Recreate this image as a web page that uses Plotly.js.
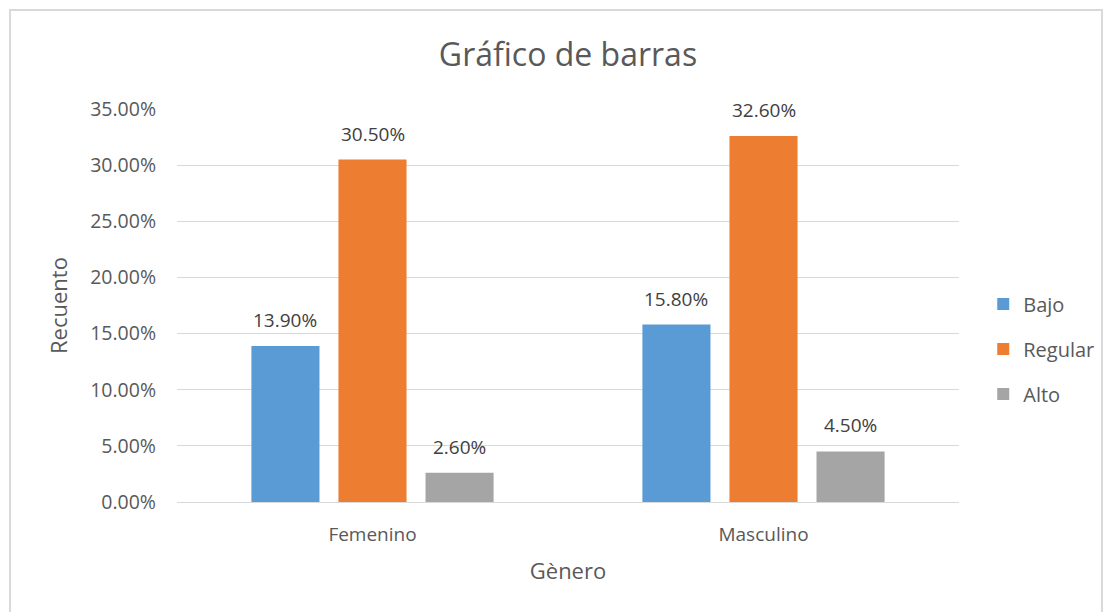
<!DOCTYPE html>
<html><head><meta charset="utf-8">
<script src="https://cdn.plot.ly/plotly-3.0.1.min.js"></script>
<style>
body{margin:0;background:#fff;}
#wrap{position:relative;width:1106px;height:612px;}
#chart{position:absolute;left:0;top:0;width:1106px;height:612px;}
#frame{position:absolute;left:9px;top:9px;width:1094px;height:610px;border:2px solid #d9d9d9;box-sizing:border-box;pointer-events:none;}
</style></head>
<body><div id="wrap"><div id="chart"></div><div id="frame"></div></div>
<script>
const categories = ["Femenino", "Masculino"];
const seriesNames = ["Bajo", "Regular", "Alto"];
const bajo = [0.139, 0.158];
const regular = [0.305, 0.326];
const alto = [0.026, 0.045];
const colors = ["#5b9bd5", "#ed7d31", "#a5a5a5"];
const yTicks = [0, 0.05, 0.10, 0.15, 0.20, 0.25, 0.30, 0.35];

const FONT = "Open Sans, sans-serif";
const TXT = "#595959";
const values = [bajo, regular, alto];
const W = 1106, H = 612;
const margin = {l: 177, r: 147, t: 109, b: 110, autoexpand: false};
const bargap = 0.332, bargroupgap = 0.218;

const traces = seriesNames.map((n, i) => ({
  type: "bar", name: n, x: categories, y: values[i],
  marker: {color: colors[i]},
  legendgroup: n
}));

// data labels placed over each bar via the axes
const plotW = W - margin.l - margin.r;
const slot = plotW / categories.length * (1 - bargap) / seriesNames.length;
const annotations = [];
values.forEach((vals, i) => {
  vals.forEach((v, j) => {
    annotations.push({
      x: categories[j], y: v, xref: "x", yref: "y",
      text: (v * 100).toFixed(2) + "%", showarrow: false,
      xshift: (i - (seriesNames.length - 1) / 2) * slot,
      yanchor: "middle", yshift: 26,
      font: {family: FONT, size: 19, color: "#404040"}
    });
  });
});

const layout = {
  width: W, height: H, margin: margin,
  paper_bgcolor: "#fff", plot_bgcolor: "#fff",
  font: {family: FONT, color: TXT},
  title: {text: "Gráfico de barras", font: {family: FONT, size: 32, color: TXT},
    x: 0.5, xref: "paper", y: 1 - 55/612, yref: "container", yanchor: "middle"},
  barmode: "group", bargap: bargap, bargroupgap: bargroupgap,
  xaxis: {
    showgrid: false, showline: true, linecolor: "#d9d9d9", linewidth: 1,
    ticks: "", tickfont: {family: FONT, size: 19, color: TXT},
    ticklabelstandoff: 15,
    title: {text: "Gènero", font: {family: FONT, size: 22, color: TXT}, standoff: 17}
  },
  yaxis: {
    range: [0, 0.35], tickvals: yTicks, tickformat: ".2%",
    showgrid: true, gridcolor: "#d9d9d9", gridwidth: 1, zeroline: false,
    showline: false, ticks: "",
    tickfont: {family: FONT, size: 19.5, color: TXT},
    ticklabelstandoff: 20,
    title: {text: "Recuento", font: {family: FONT, size: 22, color: TXT}, standoff: 16}
  },
  annotations: annotations,
  legend: {x: 1.031, xanchor: "left", y: 0.389, yanchor: "middle",
    font: {family: FONT, size: 20, color: TXT}, traceorder: "grouped",
    tracegroupgap: 16, itemwidth: 30},
  showlegend: true
};
Plotly.newPlot("chart", traces, layout, {displayModeBar: false, staticPlot: true});
</script></body></html>
